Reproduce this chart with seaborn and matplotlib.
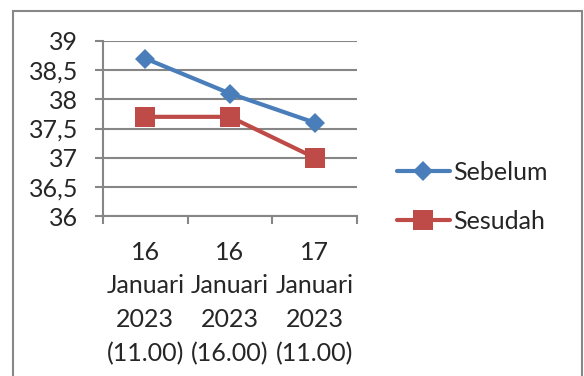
import matplotlib
matplotlib.use("Agg")
import matplotlib.pyplot as plt
import matplotlib.patches as patches
import matplotlib.ticker as mticker
import pandas as pd
import seaborn as sns

# Data
waktu = ["16\nJanuari\n2023\n(11.00)", "16\nJanuari\n2023\n(16.00)", "17\nJanuari\n2023\n(11.00)"]
sebelum = [38.7, 38.1, 37.6]
sesudah = [37.7, 37.7, 37.0]
y_ticks = [36, 36.5, 37, 37.5, 38, 38.5, 39]

df = pd.DataFrame({"pos": range(len(waktu)), "Sebelum": sebelum, "Sesudah": sesudah})

sns.set_theme(style="white")
plt.rcParams["font.family"] = ["Lato", "DejaVu Sans"]

grey = "#868686"
fs = 18
fig = plt.figure(figsize=(5.84, 3.76), dpi=100)
ax = fig.add_axes([103 / 584, 1 - 216 / 376, (357 - 103) / 584, (216 - 41) / 376])

sns.lineplot(data=df, x="pos", y="Sebelum", ax=ax, color="#4A7EBB", lw=3,
             marker="D", markersize=9.7, markeredgewidth=0, label="Sebelum")
sns.lineplot(data=df, x="pos", y="Sesudah", ax=ax, color="#BE4B48", lw=3,
             marker="s", markersize=14, markeredgewidth=0, label="Sesudah")

ax.set_xlim(-0.5, len(waktu) - 0.5)
ax.set_ylim(36, 39)
ax.set_yticks(y_ticks)
ax.yaxis.set_major_formatter(mticker.FuncFormatter(lambda v, p: f"{v:g}".replace(".", ",")))
ax.grid(axis="y", color=grey, lw=1.5)
ax.set_axisbelow(True)

# category boundaries as major ticks, labels on minor ticks
ax.set_xticks([i - 0.5 for i in range(len(waktu) + 1)])
ax.set_xticklabels([])
ax.set_xticks(list(range(len(waktu))), minor=True)
ax.set_xticklabels(waktu, minor=True, fontsize=fs, linespacing=1.55)
ax.tick_params(axis="x", which="major", length=6, width=1.5, color=grey, direction="out", bottom=True)
ax.tick_params(axis="x", which="minor", length=0, pad=18)
ax.tick_params(axis="y", length=6, width=1.5, color=grey, direction="out", left=True,
               labelsize=fs, pad=12)

for s in ["top", "right"]:
    ax.spines[s].set_visible(False)
for s in ["left", "bottom"]:
    ax.spines[s].set_color(grey)
    ax.spines[s].set_linewidth(1.5)
ax.set_xlabel("")
ax.set_ylabel("")

ax.legend(loc="center left", bbox_to_anchor=(397 / 584, 1 - 197 / 376),
          bbox_transform=fig.transFigure, frameon=False, fontsize=fs,
          borderpad=0, borderaxespad=0, handlelength=2.1, handletextpad=0.15,
          labelspacing=1.05)

fig.patches.append(patches.Rectangle((13 / 584, -0.05), (582 - 13) / 584, 1.05 - 11 / 376,
                                     transform=fig.transFigure, fill=False,
                                     edgecolor="#878787", lw=1.5))

fig.savefig("out.png", dpi=100)
